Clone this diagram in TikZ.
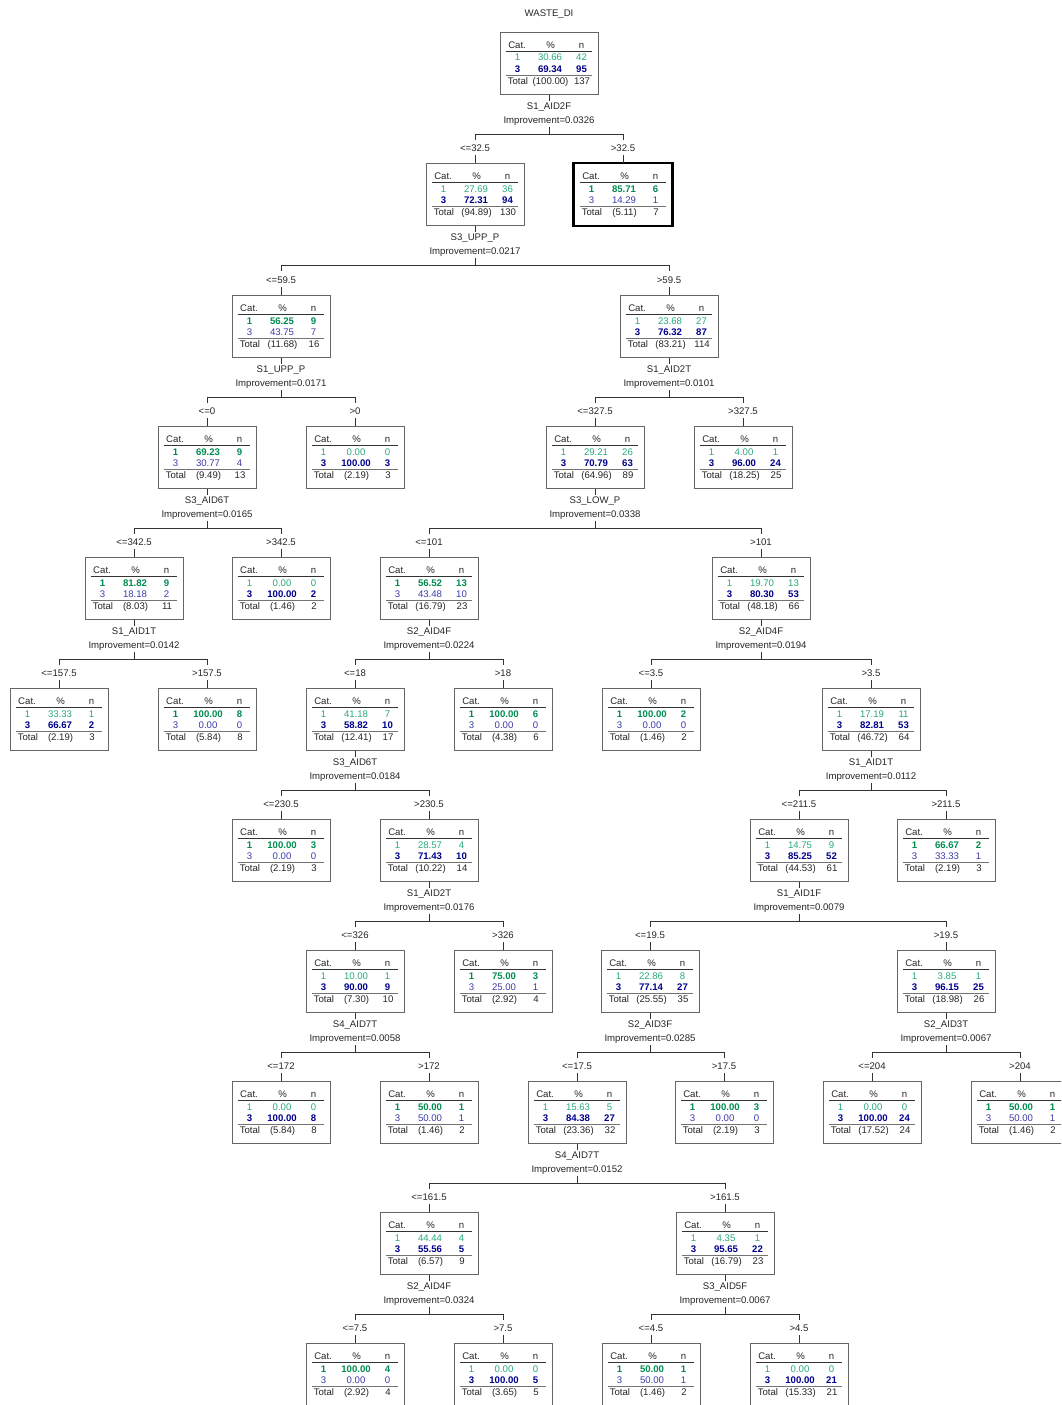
\documentclass[tikz,border=0pt]{standalone}
\usepackage{fontspec}
\setmainfont{Liberation Sans}
\usetikzlibrary{calc}
\definecolor{gL}{RGB}{40,170,120}
\definecolor{gB}{RGB}{0,140,80}
\definecolor{bL}{RGB}{60,60,170}
\definecolor{bB}{RGB}{0,0,140}
\tikzset{
 box/.style={draw=black!60, line width=0.9pt, minimum width=98pt, minimum height=62pt, inner sep=0pt, anchor=north, fill=white},
 thickbox/.style={draw=black, line width=2.2pt},
 txt/.style={font=\fontsize{9.6}{11}\selectfont, inner sep=0pt, anchor=base, text=black!85},
 lab/.style={font=\fontsize{9.6}{11}\selectfont, inner sep=0pt, text=black!85},
 conn/.style={draw=black!80, line width=0.8pt},
 hline/.style={draw=black!80, line width=0.8pt},
 tline/.style={draw=black!55, line width=1.4pt},
 gBold/.style={txt, text=gB, font=\fontsize{9.6}{11}\selectfont\bfseries},
 gLight/.style={txt, text=gL},
 bBold/.style={txt, text=bB, font=\fontsize{9.6}{11}\selectfont\bfseries},
 bLight/.style={txt, text=bL},
}
% #1 name, #2 cx,top, #3 bold row (1/3), #4 p1, #5 n1, #6 p3, #7 n3, #8 total pct, #9 total n
\newcommand\treebox[9]{%
 \ifnum#3=1\relax\tikzset{rA/.style={gBold},rB/.style={bLight}}\else\tikzset{rA/.style={gLight},rB/.style={bBold}}\fi
 \node[box] (#1) at (#2) {};
 \node[txt] (#1-hc) at ($(#1.north west)+(17.5,16.4)$) {Cat.};
 \node[txt] (#1-hp) at ($(#1.north west)+(51,16.4)$) {\%};
 \node[txt] (#1-hn) at ($(#1.north west)+(82,16.4)$) {n};
 \draw[hline] ($(#1.north west)+(6,19)$) -- ($(#1.north west)+(92,19)$);
 \node[rA] (#1-c1) at ($(#1.north west)+(18,29)$) {1};
 \node[rA] (#1-p1) at ($(#1.north west)+(50.5,29)$) {#4};
 \node[rA] (#1-n1) at ($(#1.north west)+(82,29)$) {#5};
 \node[rB] (#1-c3) at ($(#1.north west)+(18,40.5)$) {3};
 \node[rB] (#1-p3) at ($(#1.north west)+(50.5,40.5)$) {#6};
 \node[rB] (#1-n3) at ($(#1.north west)+(82,40.5)$) {#7};
 \draw[tline] ($(#1.north west)+(6,43.5)$) -- ($(#1.north west)+(92,43.5)$);
 \node[txt, anchor=base west] (#1-tt) at ($(#1.north west)+(8,52.4)$) {Total};
 \node[txt] (#1-tp) at ($(#1.north west)+(51,52.4)$) {(#8)};
 \node[txt] (#1-tn) at ($(#1.north west)+(82.5,52.4)$) {#9};
}
% #1 parent, #2 left child, #3 right child, #4 variable, #5 improvement, #6 left label, #7 right label
\newcommand\splitconn[7]{%
 \coordinate (#1-bar) at ($(#1.south)+(0,39)$);
 \draw[conn] (#1.south) -- ($(#1.south)+(0,6)$);
 \node[lab] (#1-var) at ($(#1.south)+(0,12)$) {#4};
 \node[lab] (#1-imp) at ($(#1.south)+(0,26)$) {Improvement=#5};
 \draw[conn] ($(#1.south)+(0,32)$) -- (#1-bar);
 \draw[conn] (#2.north |- #1-bar) -- (#3.north |- #1-bar);
 \draw[conn] (#2.north |- #1-bar) -- ($(#2.north |- #1-bar)+(0,6)$);
 \draw[conn] (#3.north |- #1-bar) -- ($(#3.north |- #1-bar)+(0,6)$);
 \node[lab] (#2-lab) at ($(#2.north)+(0,-15)$) {#6};
 \node[lab] (#3-lab) at ($(#3.north)+(0,-15)$) {#7};
 \draw[conn] ($(#2.north)+(0,-8)$) -- (#2.north);
 \draw[conn] ($(#3.north)+(0,-8)$) -- (#3.north);
}
\begin{document}
\begin{tikzpicture}[x=1pt,y=-1pt]
\fill[white] (0,0) rectangle (1061,1405);
\useasboundingbox (0,0) rectangle (1061,1405);
\clip (0,0) rectangle (1061,1405);
\node[lab] (title) at (549,14) {WASTE\_DI};
\treebox{n0}{549,32}{3}{30.66}{42}{69.34}{95}{100.00}{137}
\treebox{n1}{475,163}{3}{27.69}{36}{72.31}{94}{94.89}{130}
\treebox{n2}{623,163}{1}{85.71}{6}{14.29}{1}{5.11}{7}
\draw[thickbox] (n2.north west) rectangle (n2.south east);
\treebox{n3}{281,295}{1}{56.25}{9}{43.75}{7}{11.68}{16}
\treebox{n4}{669,295}{3}{23.68}{27}{76.32}{87}{83.21}{114}
\treebox{n5}{207,426}{1}{69.23}{9}{30.77}{4}{9.49}{13}
\treebox{n6}{355,426}{3}{0.00}{0}{100.00}{3}{2.19}{3}
\treebox{n7}{595,426}{3}{29.21}{26}{70.79}{63}{64.96}{89}
\treebox{n8}{743,426}{3}{4.00}{1}{96.00}{24}{18.25}{25}
\treebox{n9}{134,557}{1}{81.82}{9}{18.18}{2}{8.03}{11}
\treebox{n10}{281,557}{3}{0.00}{0}{100.00}{2}{1.46}{2}
\treebox{n11}{429,557}{1}{56.52}{13}{43.48}{10}{16.79}{23}
\treebox{n12}{761,557}{3}{19.70}{13}{80.30}{53}{48.18}{66}
\treebox{n13}{59,688}{3}{33.33}{1}{66.67}{2}{2.19}{3}
\treebox{n14}{207,688}{1}{100.00}{8}{0.00}{0}{5.84}{8}
\treebox{n15}{355,688}{3}{41.18}{7}{58.82}{10}{12.41}{17}
\treebox{n16}{503,688}{1}{100.00}{6}{0.00}{0}{4.38}{6}
\treebox{n17}{651,688}{1}{100.00}{2}{0.00}{0}{1.46}{2}
\treebox{n18}{871,688}{3}{17.19}{11}{82.81}{53}{46.72}{64}
\treebox{n19}{281,819}{1}{100.00}{3}{0.00}{0}{2.19}{3}
\treebox{n20}{429,819}{3}{28.57}{4}{71.43}{10}{10.22}{14}
\treebox{n21}{799,819}{3}{14.75}{9}{85.25}{52}{44.53}{61}
\treebox{n22}{946,819}{1}{66.67}{2}{33.33}{1}{2.19}{3}
\treebox{n23}{355,950}{3}{10.00}{1}{90.00}{9}{7.30}{10}
\treebox{n24}{503,950}{1}{75.00}{3}{25.00}{1}{2.92}{4}
\treebox{n25}{650,950}{3}{22.86}{8}{77.14}{27}{25.55}{35}
\treebox{n26}{946,950}{3}{3.85}{1}{96.15}{25}{18.98}{26}
\treebox{n27}{281,1081}{3}{0.00}{0}{100.00}{8}{5.84}{8}
\treebox{n28}{429,1081}{1}{50.00}{1}{50.00}{1}{1.46}{2}
\treebox{n29}{577,1081}{3}{15.63}{5}{84.38}{27}{23.36}{32}
\treebox{n30}{724,1081}{1}{100.00}{3}{0.00}{0}{2.19}{3}
\treebox{n31}{872,1081}{3}{0.00}{0}{100.00}{24}{17.52}{24}
\treebox{n32}{1020,1081}{1}{50.00}{1}{50.00}{1}{1.46}{2}
\treebox{n33}{429,1212}{3}{44.44}{4}{55.56}{5}{6.57}{9}
\treebox{n34}{725,1212}{3}{4.35}{1}{95.65}{22}{16.79}{23}
\treebox{n35}{355,1343}{1}{100.00}{4}{0.00}{0}{2.92}{4}
\treebox{n36}{503,1343}{3}{0.00}{0}{100.00}{5}{3.65}{5}
\treebox{n37}{651,1343}{1}{50.00}{1}{50.00}{1}{1.46}{2}
\treebox{n38}{799,1343}{3}{0.00}{0}{100.00}{21}{15.33}{21}
\splitconn{n0}{n1}{n2}{S1\_AID2F}{0.0326}{<=32.5}{>32.5}
\splitconn{n1}{n3}{n4}{S3\_UPP\_P}{0.0217}{<=59.5}{>59.5}
\splitconn{n3}{n5}{n6}{S1\_UPP\_P}{0.0171}{<=0}{>0}
\splitconn{n4}{n7}{n8}{S1\_AID2T}{0.0101}{<=327.5}{>327.5}
\splitconn{n5}{n9}{n10}{S3\_AID6T}{0.0165}{<=342.5}{>342.5}
\splitconn{n7}{n11}{n12}{S3\_LOW\_P}{0.0338}{<=101}{>101}
\splitconn{n9}{n13}{n14}{S1\_AID1T}{0.0142}{<=157.5}{>157.5}
\splitconn{n11}{n15}{n16}{S2\_AID4F}{0.0224}{<=18}{>18}
\splitconn{n12}{n17}{n18}{S2\_AID4F}{0.0194}{<=3.5}{>3.5}
\splitconn{n15}{n19}{n20}{S3\_AID6T}{0.0184}{<=230.5}{>230.5}
\splitconn{n18}{n21}{n22}{S1\_AID1T}{0.0112}{<=211.5}{>211.5}
\splitconn{n20}{n23}{n24}{S1\_AID2T}{0.0176}{<=326}{>326}
\splitconn{n21}{n25}{n26}{S1\_AID1F}{0.0079}{<=19.5}{>19.5}
\splitconn{n23}{n27}{n28}{S4\_AID7T}{0.0058}{<=172}{>172}
\splitconn{n25}{n29}{n30}{S2\_AID3F}{0.0285}{<=17.5}{>17.5}
\splitconn{n26}{n31}{n32}{S2\_AID3T}{0.0067}{<=204}{>204}
\splitconn{n29}{n33}{n34}{S4\_AID7T}{0.0152}{<=161.5}{>161.5}
\splitconn{n33}{n35}{n36}{S2\_AID4F}{0.0324}{<=7.5}{>7.5}
\splitconn{n34}{n37}{n38}{S3\_AID5F}{0.0067}{<=4.5}{>4.5}
\end{tikzpicture}
\end{document}
